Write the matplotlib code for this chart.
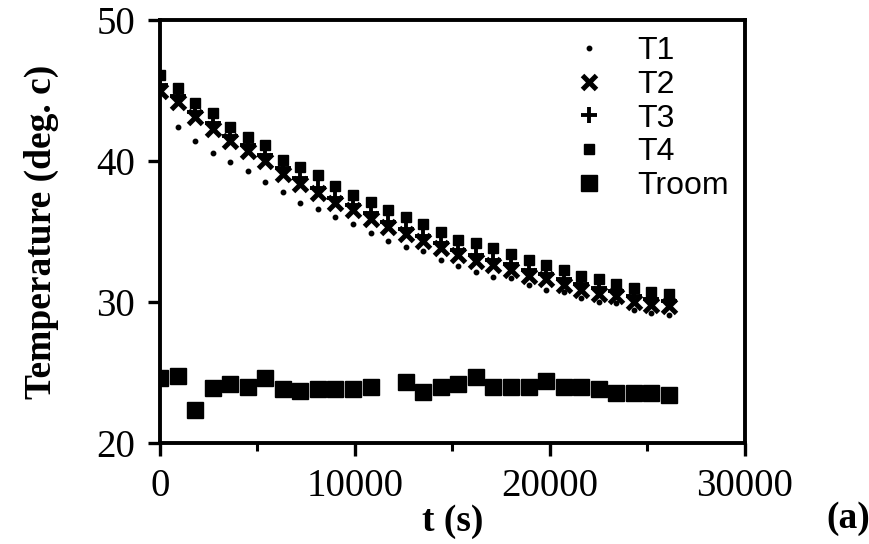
import numpy as np
import matplotlib
matplotlib.use("Agg")
import matplotlib.pyplot as plt
from matplotlib.ticker import MultipleLocator

t = [0, 900, 1800, 2700, 3600, 4500, 5400, 6300, 7200, 8100,
     9000, 9900, 10800, 11700, 12600, 13500, 14400, 15300, 16200, 17100,
     18000, 18900, 19800, 20700, 21600, 22500, 23400, 24300, 25200, 26100]

T1 = [45.0, 42.4, 41.4, 40.6, 39.9, 39.3, 38.5, 37.8, 37.0, 36.6,
      36.0, 35.5, 34.9, 34.3, 33.9, 33.6, 33.0, 32.55, 32.15, 31.8,
      31.7, 31.2, 30.85, 30.7, 30.3, 30.0, 29.9, 29.4, 29.2, 29.1]
T2 = [45.0, 44.2, 43.1, 42.3, 41.4, 40.7, 40.0, 39.1, 38.4, 37.7,
      37.0, 36.5, 35.9, 35.3, 34.8, 34.3, 33.8, 33.3, 32.9, 32.6,
      32.3, 31.85, 31.6, 31.2, 30.85, 30.6, 30.4, 30.0, 29.8, 29.7]
T3 = [45.4, 44.6, 43.5, 42.7, 41.8, 41.1, 40.4, 39.5, 38.8, 38.1,
      37.4, 36.9, 36.3, 35.7, 35.2, 34.7, 34.2, 33.7, 33.3, 33.0,
      32.7, 32.25, 32.0, 31.6, 31.25, 31.0, 30.8, 30.4, 30.2, 30.1]
T4 = [46.1, 45.2, 44.1, 43.4, 42.4, 41.7, 41.1, 40.1, 39.6, 39.0,
      38.2, 37.6, 37.1, 36.5, 36.0, 35.5, 35.0, 34.4, 34.2, 33.8,
      33.4, 33.0, 32.6, 32.3, 31.85, 31.6, 31.3, 31.0, 30.7, 30.6]
Troom = [24.63, 24.77, 22.34, 23.88, 24.18, 23.99, 24.59, 23.81, 23.69, 23.81,
         23.81, 23.81, 23.95, np.nan, 24.35, 23.59, 24.0, 24.16, 24.7, 23.95,
         23.95, 23.95, 24.4, 23.95, 23.95, 23.81, 23.57, 23.57, 23.57, 23.4]

fig = plt.figure(figsize=(8.7, 5.44), dpi=100)
ax = fig.add_axes([160/870, 1-443/544, (745-160)/870, (443-20)/544])

ax.plot(t, T1, linestyle='none', marker='o', ms=3.2, color='black', label='T1')
ax.plot(t, T2, linestyle='none', marker='x', ms=10.5, mew=3.6, color='black', label='T2')
ax.plot(t, T3, linestyle='none', marker='+', ms=11, mew=2.8, color='black', label='T3')
ax.plot(t, T4, linestyle='none', marker='s', ms=7.5, color='black', label='T4')
ax.plot(t, Troom, linestyle='none', marker='s', ms=11.5, color='black', label='Troom')

ax.set_xlim(0, 30000)
ax.set_ylim(20, 50)
ax.xaxis.set_major_locator(MultipleLocator(10000))
ax.xaxis.set_minor_locator(MultipleLocator(5000))
ax.yaxis.set_major_locator(MultipleLocator(10))

for s in ax.spines.values():
    s.set_linewidth(2.8)
ax.tick_params(axis='both', which='major', direction='out', length=9, width=2.4, pad=9)
ax.tick_params(axis='x', which='minor', direction='out', length=6, width=2.2)

serif = 'Liberation Serif'
for lab in ax.get_xticklabels() + ax.get_yticklabels():
    lab.set_fontfamily(serif)
    lab.set_fontsize(28)

ax.set_xlabel('t (s)', fontfamily=serif, fontweight='bold', fontsize=27, labelpad=-1)
ax.set_ylabel('Temperature (deg. c)', fontfamily=serif, fontweight='bold', fontsize=27, labelpad=27)
fig.text(848/870, 1-519/544, '(a)', fontfamily=serif, fontweight='bold', fontsize=27,
         ha='center', va='center')

leg = ax.legend(loc='upper right', frameon=False, prop={'family': 'Liberation Sans', 'size': 23},
                handlelength=1.0, handletextpad=1.0, labelspacing=0.12,
                borderaxespad=0.1, markerscale=1.0)

fig.savefig('out.png', dpi=100)
